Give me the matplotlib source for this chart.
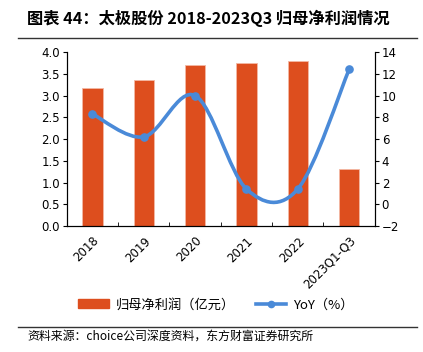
import matplotlib

matplotlib.use("Agg")
import matplotlib.pyplot as plt
import numpy as np
from matplotlib.path import Path
from matplotlib.patches import PathPatch, Patch
from matplotlib.lines import Line2D

plt.rcParams["font.family"] = ["Noto Sans CJK SC", "DejaVu Sans"]

categories = ["2018", "2019", "2020", "2021", "2022", "2023Q1-Q3"]
profit = [3.17, 3.36, 3.70, 3.75, 3.79, 1.31]
yoy = [8.3, 6.2, 10.0, 1.4, 1.4, 12.4]

bar_color = "#DD4E1E"
line_color = "#4A8AD8"


def smooth_path(xs, ys):
    # smoothed line like the office chart: cubic Bezier through each point
    pts = np.column_stack([xs, ys]).astype(float)
    n = len(pts)
    verts = [pts[0]]
    codes = [Path.MOVETO]
    for i in range(n - 1):
        p0 = pts[max(i - 1, 0)]
        p1 = pts[i]
        p2 = pts[i + 1]
        p3 = pts[min(i + 2, n - 1)]
        verts += [p1 + (p2 - p0) / 6.0, p2 - (p3 - p1) / 6.0, p2]
        codes += [Path.CURVE4] * 3
    return Path(verts, codes)


fig = plt.figure(figsize=(4.23, 3.52), dpi=100)
ax = fig.add_axes([0.158, 0.358, 0.728, 0.494])
x = np.arange(len(categories))
ax.bar(x, profit, width=0.4, color=bar_color, edgecolor="#F3B8A4", linewidth=0.6, zorder=2)
ax.set_xlim(-0.5, len(categories) - 0.5)
ax.set_ylim(0, 4.0)
left_ticks = np.arange(0, 4.01, 0.5)
ax.set_yticks(left_ticks)
ax.set_yticklabels([f"{v:.1f}" for v in left_ticks], fontsize=8.5, family="DejaVu Sans")
ax.set_xticks(x)
ax.set_xticklabels(categories, rotation=45, ha="right", rotation_mode="anchor",
                   fontsize=8.5, family="DejaVu Sans")
ax.tick_params(axis="x", which="major", length=0, pad=6)
ax.set_xticks(np.arange(0.5, len(categories) - 0.5, 1), minor=True)
ax.tick_params(axis="x", which="minor", direction="in", length=3)
ax.tick_params(axis="y", length=3, direction="out", pad=2)
ax.spines["top"].set_visible(False)

ax2 = ax.twinx()
ax2.set_ylim(-2, 14)
right_ticks = list(range(-2, 15, 2))
ax2.set_yticks(right_ticks)
ax2.set_yticklabels([str(v).replace("-", "\u2212") for v in right_ticks], fontsize=8.5, family="DejaVu Sans")
ax2.tick_params(axis="y", length=3, direction="out", pad=2)
ax2.spines["top"].set_visible(False)
ax2.add_patch(PathPatch(smooth_path(x, yoy), facecolor="none", edgecolor=line_color,
                        linewidth=2.6, zorder=3))
ax2.plot(x, yoy, "o", color=line_color, markersize=5.2, zorder=4)

fig.text(0.064, 0.949, "图表 44：太极股份 2018-2023Q3 归母净利润情况", fontsize=11.7,
         fontweight="bold", va="center")
fig.lines.append(Line2D([0.043, 0.985], [0.892, 0.892], color="#333333", linewidth=1.0,
                        transform=fig.transFigure, figure=fig))
fig.lines.append(Line2D([0.043, 0.985], [0.072, 0.072], color="#333333", linewidth=1.0,
                        transform=fig.transFigure, figure=fig))
fig.text(0.064, 0.046, "资料来源：choice公司深度资料，东方财富证券研究所", fontsize=8.6, va="center")

handles = [Patch(color=bar_color),
           Line2D([], [], color=line_color, linewidth=2.6, marker="o", markersize=4.5)]
fig.legend(handles, ["归母净利润（亿元）", "YoY（%）"], loc="center", bbox_to_anchor=(0.51, 0.134),
           ncol=2, frameon=False, fontsize=9.5, handlelength=2.3, handletextpad=0.5,
           columnspacing=1.6)

fig.savefig("out.png", dpi=100)
